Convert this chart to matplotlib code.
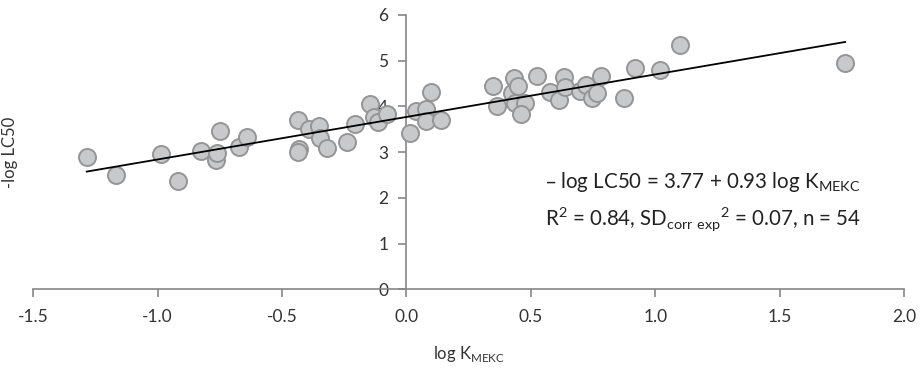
import numpy as np
import matplotlib
matplotlib.use('Agg')
import matplotlib.pyplot as plt

plt.rcParams['font.family'] = ['Lato', 'DejaVu Sans']

# log K_MEKC vs -log LC50
log_k = [-1.285, -1.166, -0.985, -0.917, -0.827, -0.767, -0.763, -0.751,
         -0.673, -0.640, -0.437, -0.430, -0.435, -0.392, -0.352, -0.349,
         -0.318, -0.238, -0.205, -0.145, -0.131, -0.114, -0.078, 0.016,
         0.040, 0.079, 0.079, 0.099, 0.137, 0.347, 0.364, 0.431, 0.424,
         0.449, 0.435, 0.478, 0.461, 0.525, 0.578, 0.614, 0.632, 0.639,
         0.699, 0.723, 0.746, 0.766, 0.782, 0.873, 0.920, 1.020, 1.098,
         1.763]
neg_log_lc50 = [2.90, 2.50, 2.95, 2.37, 3.03, 2.83, 2.98, 3.46,
                3.12, 3.34, 3.70, 3.07, 3.00, 3.50, 3.58, 3.30,
                3.09, 3.22, 3.62, 4.05, 3.76, 3.67, 3.83, 3.42,
                3.89, 3.94, 3.69, 4.32, 3.70, 4.45, 4.01, 4.63, 4.30,
                4.45, 4.08, 4.08, 3.83, 4.67, 4.32, 4.14, 4.65, 4.43,
                4.34, 4.47, 4.18, 4.29, 4.67, 4.19, 4.84, 4.80, 5.35,
                4.95]

intercept = 3.77
slope = 0.93

x_ticks = [-1.5, -1.0, -0.5, 0.0, 0.5, 1.0, 1.5, 2.0]
y_ticks = [0, 1, 2, 3, 4, 5, 6]

fig = plt.figure(figsize=(9.22, 3.71), dpi=100)
ax = fig.add_axes([0.0361, 0.2202, 0.9444, 0.7394])

x = np.array(log_k)
y = np.array(neg_log_lc50)
ax.scatter(x, y, s=150, facecolor='#c8c9cb', edgecolor='#959595',
           linewidth=1.4, zorder=3)

x_fit = np.array([x.min(), x.max()])
ax.plot(x_fit, intercept + slope * x_fit, color='black', linewidth=1.3, zorder=4)

ax.set_xlim(-1.5, 2.0)
ax.set_ylim(0, 6)
ax.set_xticks(x_ticks)
ax.set_xticklabels([f'{t:.1f}' for t in x_ticks])
ax.set_yticks(y_ticks)

for side in ['top', 'right']:
    ax.spines[side].set_visible(False)
ax.spines['left'].set_position(('data', 0))
for side in ['left', 'bottom']:
    ax.spines[side].set_color('#868686')
    ax.spines[side].set_linewidth(1.2)
ax.tick_params(axis='both', colors='#868686', labelcolor='#333333',
               labelsize=12.5, length=6, width=1.2, direction='out')
ax.tick_params(axis='x', pad=8)
ax.tick_params(axis='y', pad=7)

ax.set_xlabel(r'log K$_\mathregular{MEKC}$', fontsize=12, color='#333333',
              labelpad=14)
ax.set_ylabel('-log LC50', fontsize=12, color='#333333')
ax.yaxis.set_label_coords(-0.018, 0.5)

ax.text(0.555, 2.22,
        r'– log LC50 = 3.77 + 0.93 log K$_\mathregular{MEKC}$',
        transform=ax.transData, fontsize=14.8, color='#222222')
ax.text(0.555, 1.39,
        r'R$^\mathregular{2}$ = 0.84, SD$_\mathregular{corr\ exp}{}^\mathregular{2}$ = 0.07, n = 54',
        transform=ax.transData, fontsize=14.8, color='#222222')

fig.savefig('out.png', dpi=100)
